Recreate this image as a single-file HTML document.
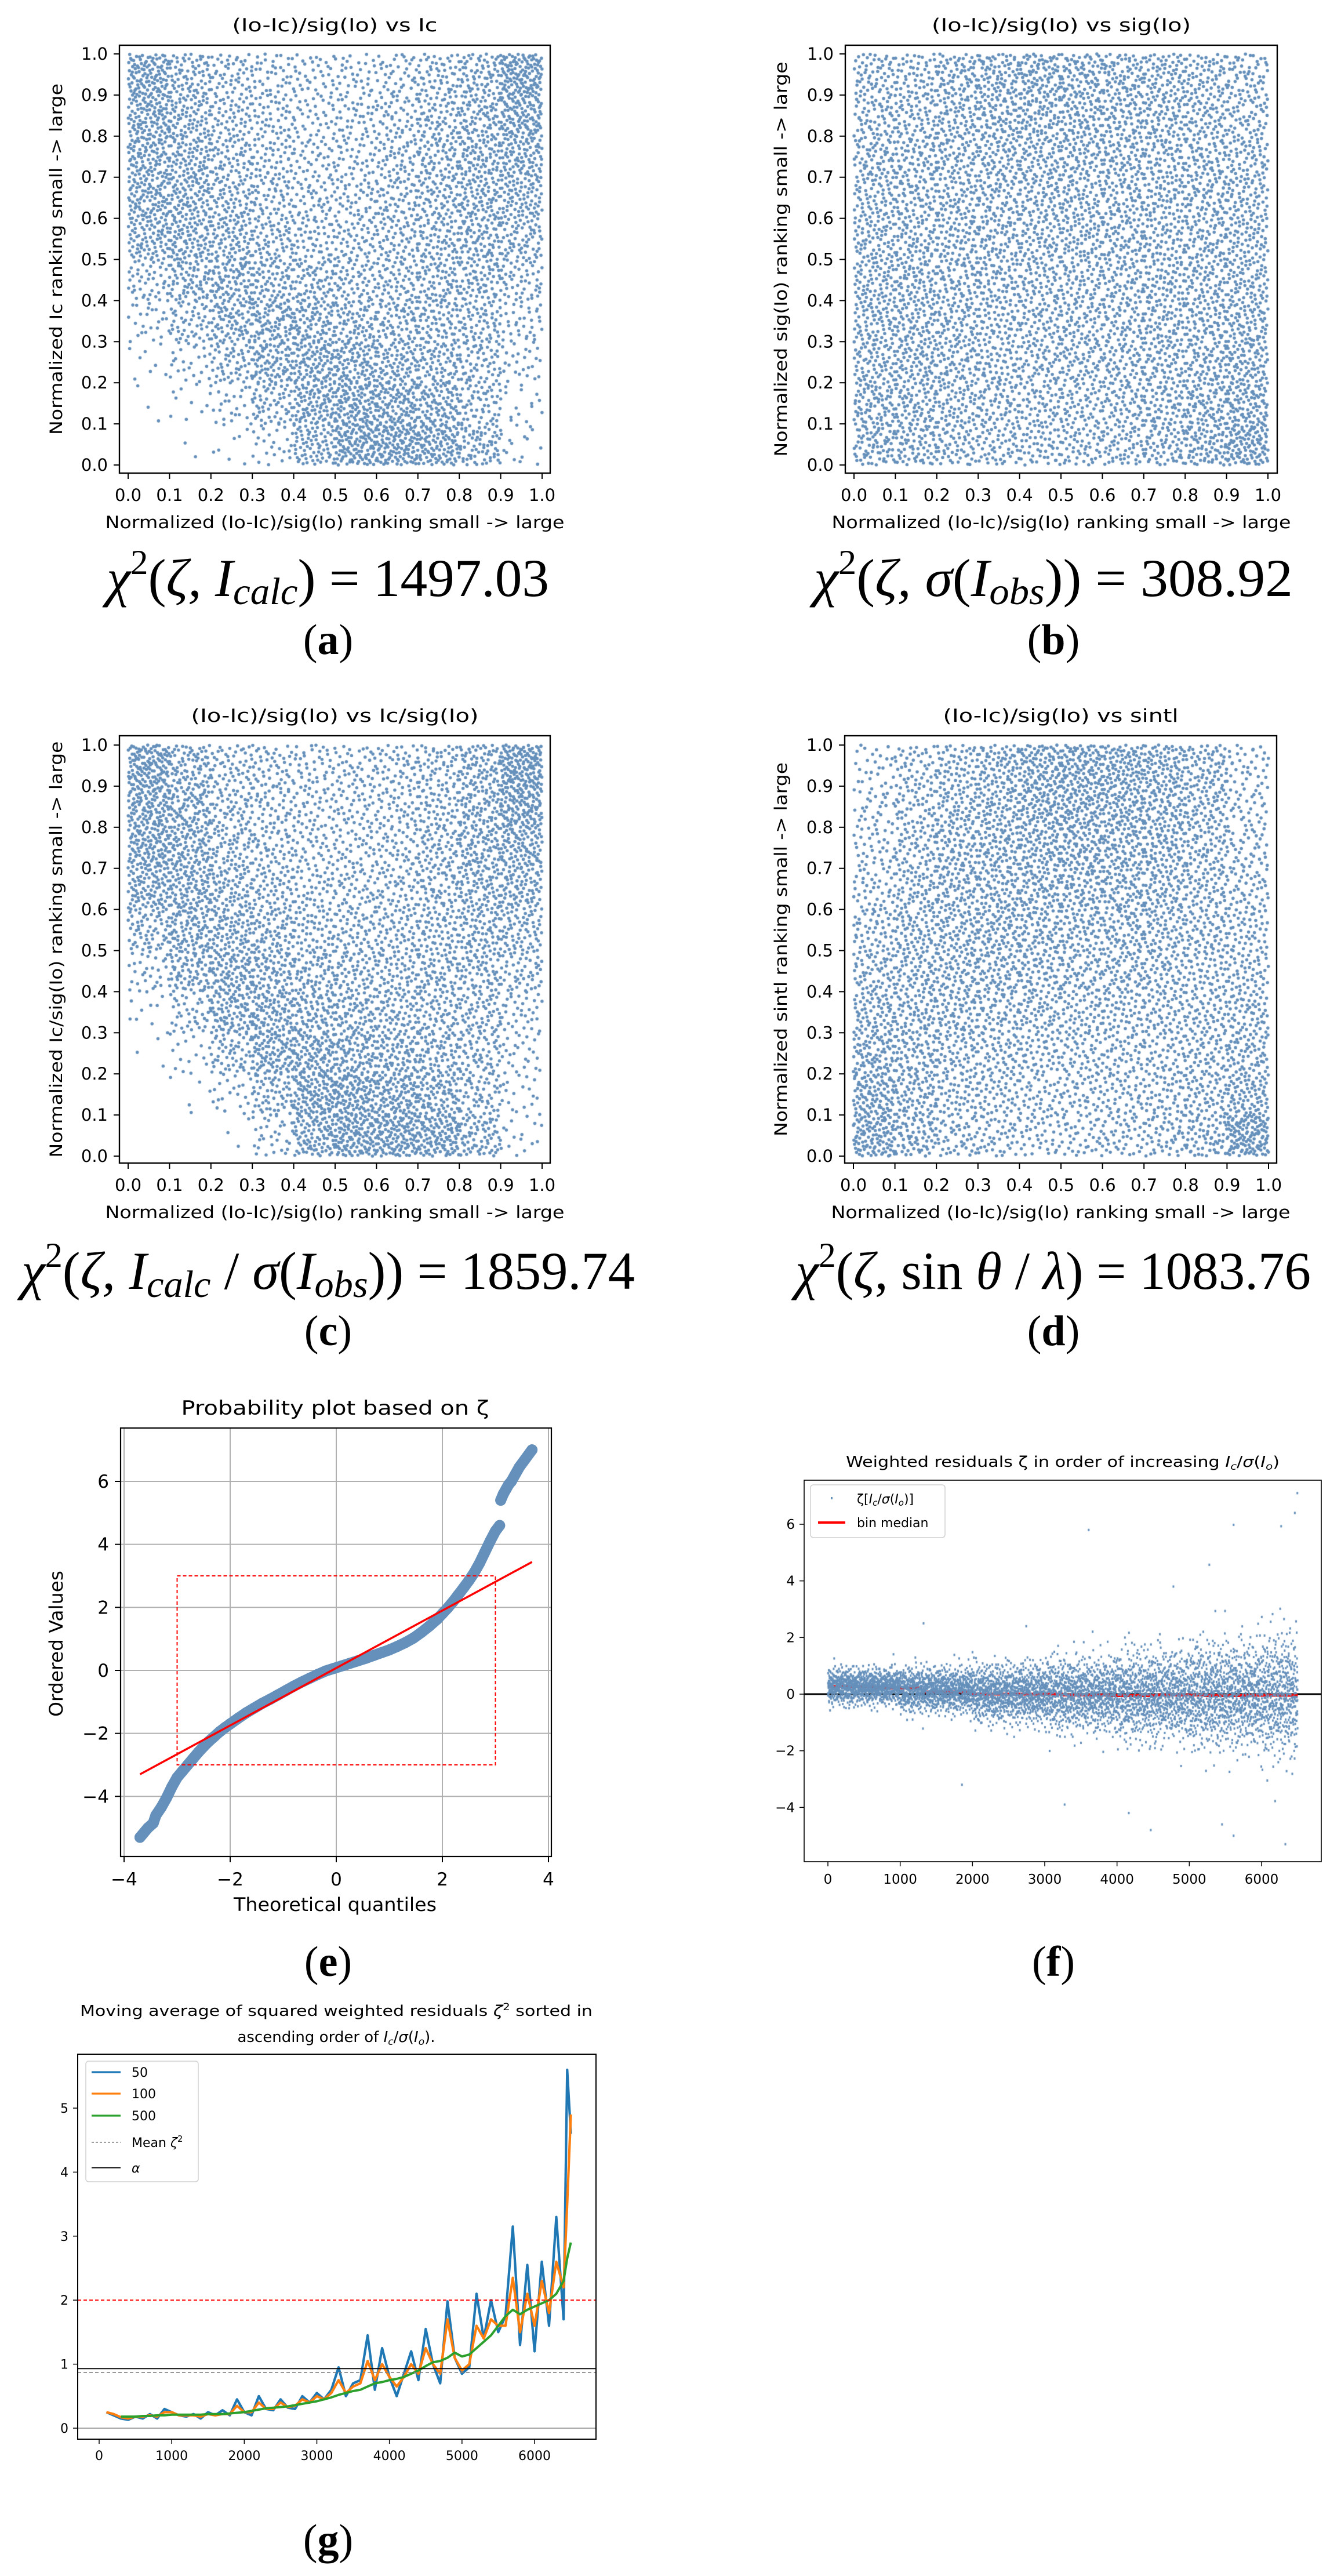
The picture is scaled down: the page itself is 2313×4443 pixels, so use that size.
<!DOCTYPE html>
<html><head><meta charset="utf-8"><title>Residual analysis figure</title>
<style>
html,body{margin:0;padding:0;background:#fff;}
#wrap{position:relative;width:2313px;height:4443px;overflow:hidden;}
#fig{position:absolute;left:0;top:0;}
#dots{position:absolute;left:0;top:0;pointer-events:none;}
text{font-family:"DejaVu Sans","Liberation Sans",sans-serif;fill:#000;}
.serif{font-family:"Liberation Serif","DejaVu Serif",serif;}
</style></head>
<body>
<div id="wrap">
<svg id="fig" width="2313" height="4443" viewBox="0 0 2313 4443" xmlns="http://www.w3.org/2000/svg">
  <text class="serif" x="184" y="1028" font-size="92" textLength="763" lengthAdjust="spacingAndGlyphs"><tspan font-style="italic">χ</tspan><tspan dy="-38" font-size="60">2</tspan><tspan dy="38">(</tspan><tspan font-style="italic">ζ, I</tspan><tspan font-style="italic" font-size="66" dy="14">calc</tspan><tspan dy="-14">) = 1497.03</tspan></text>
  <text class="serif" x="1404" y="1028" font-size="92" textLength="826" lengthAdjust="spacingAndGlyphs"><tspan font-style="italic">χ</tspan><tspan dy="-38" font-size="60">2</tspan><tspan dy="38">(</tspan><tspan font-style="italic">ζ, σ</tspan><tspan>(</tspan><tspan font-style="italic">I</tspan><tspan font-style="italic" font-size="66" dy="14">obs</tspan><tspan dy="-14">)) = 308.92</tspan></text>
  <text class="serif" x="37" y="2223" font-size="92" textLength="1058" lengthAdjust="spacingAndGlyphs"><tspan font-style="italic">χ</tspan><tspan dy="-38" font-size="60">2</tspan><tspan dy="38">(</tspan><tspan font-style="italic">ζ, I</tspan><tspan font-style="italic" font-size="66" dy="14">calc</tspan><tspan dy="-14"> / </tspan><tspan font-style="italic">σ</tspan><tspan>(</tspan><tspan font-style="italic">I</tspan><tspan font-style="italic" font-size="66" dy="14">obs</tspan><tspan dy="-14">)) = 1859.74</tspan></text>
  <text class="serif" x="1372" y="2223" font-size="92" textLength="889" lengthAdjust="spacingAndGlyphs"><tspan font-style="italic">χ</tspan><tspan dy="-38" font-size="60">2</tspan><tspan dy="38">(</tspan><tspan font-style="italic">ζ</tspan><tspan>, sin </tspan><tspan font-style="italic">θ</tspan><tspan> / </tspan><tspan font-style="italic">λ</tspan><tspan>) = 1083.76</tspan></text>
  <text class="serif" x="566" y="1128" font-size="74" text-anchor="middle">(<tspan font-weight="bold">a</tspan>)</text>
  <text class="serif" x="1817" y="1128" font-size="74" text-anchor="middle">(<tspan font-weight="bold">b</tspan>)</text>
  <text class="serif" x="566" y="2320" font-size="74" text-anchor="middle">(<tspan font-weight="bold">c</tspan>)</text>
  <text class="serif" x="1817" y="2320" font-size="74" text-anchor="middle">(<tspan font-weight="bold">d</tspan>)</text>
  <text class="serif" x="566" y="3408" font-size="74" text-anchor="middle">(<tspan font-weight="bold">e</tspan>)</text>
  <text class="serif" x="1817" y="3408" font-size="74" text-anchor="middle">(<tspan font-weight="bold">f</tspan>)</text>
  <text class="serif" x="566" y="4405" font-size="74" text-anchor="middle">(<tspan font-weight="bold">g</tspan>)</text>
</svg>
<canvas id="dots" width="2313" height="4443"></canvas>
</div>
<script>
const aDensity = [
 [110,70,50,40,35,35,40,55,70,130],
 [100,75,55,45,35,40,45,60,75,110],
 [95,80,60,50,40,40,50,65,80,90],
 [95,85,65,55,45,45,55,65,80,80],
 [80,85,75,60,50,50,55,65,75,65],
 [45,70,80,70,65,55,60,65,65,50],
 [25,50,80,85,80,70,65,65,60,35],
 [8,25,55,85,95,90,80,70,55,25],
 [3,10,25,55,95,110,100,85,55,15],
 [0,2,8,25,75,120,125,110,70,15]];
const bDensity = [
 [60,55,70,80,85,80,75,70,60,55],
 [60,60,70,75,75,75,70,70,65,55],
 [65,65,65,70,70,70,70,65,65,60],
 [65,65,65,65,65,65,65,65,65,65],
 [65,65,65,65,65,65,65,65,65,65],
 [70,70,65,65,60,60,60,65,65,70],
 [70,70,65,60,60,60,60,65,70,75],
 [70,70,65,60,60,60,60,65,70,80],
 [75,70,60,60,55,55,60,65,75,90],
 [75,70,60,55,55,55,60,65,80,110]];
const cDensity = [
 [130,75,50,45,40,40,45,55,75,140],
 [110,85,55,45,40,40,45,55,75,120],
 [110,90,60,50,40,40,45,60,80,95],
 [90,90,70,55,45,45,50,60,75,80],
 [60,85,80,65,55,50,55,60,70,65],
 [30,75,90,75,65,60,60,65,65,50],
 [10,40,85,90,80,70,65,60,60,35],
 [3,15,55,95,95,85,80,70,55,25],
 [0,5,20,60,110,115,100,85,55,18],
 [0,0,3,30,90,125,125,110,70,15]];
const dDensity = [
 [25,45,60,75,95,100,95,85,65,35],
 [30,50,65,75,90,95,90,80,65,35],
 [35,55,70,75,80,85,80,75,60,40],
 [40,60,70,75,75,75,75,70,60,45],
 [50,65,70,75,70,65,65,65,60,50],
 [60,65,70,70,65,60,60,60,55,55],
 [70,65,65,60,60,55,55,55,55,60],
 [80,70,60,55,50,50,50,50,55,65],
 [95,70,55,50,45,45,45,50,60,80],
 [110,70,50,45,40,40,45,50,65,130]];
const unitTicks = ["0.0","0.1","0.2","0.3","0.4","0.5","0.6","0.7","0.8","0.9","1.0"];

const eQuantiles = [-3.7,-3.55,-3.45,-3.4,-3.3,-3.2,-3.1,-3.0,-2.9,-2.8,-2.7,-2.6,-2.5,-2.4,-2.3,-2.2,-2.1,-2.0,-1.85,-1.7,-1.55,-1.4,-1.25,-1.1,-0.95,-0.8,-0.65,-0.5,-0.35,-0.2,-0.05,0.1,0.25,0.4,0.55,0.7,0.85,1.0,1.15,1.3,1.45,1.6,1.75,1.9,2.0,2.1,2.2,2.3,2.4,2.5,2.6,2.7,2.8,2.9,3.0,3.08,3.1,3.15,3.2,3.25,3.3,3.45,3.69];
const eOrdered  = [-5.3,-5.0,-4.85,-4.6,-4.35,-4.05,-3.7,-3.4,-3.2,-3.0,-2.8,-2.6,-2.42,-2.25,-2.1,-1.95,-1.82,-1.7,-1.52,-1.35,-1.2,-1.05,-0.92,-0.78,-0.64,-0.5,-0.37,-0.25,-0.13,-0.02,0.06,0.14,0.22,0.3,0.38,0.47,0.56,0.65,0.76,0.88,1.02,1.2,1.4,1.62,1.8,1.98,2.18,2.4,2.62,2.85,3.1,3.4,3.75,4.1,4.42,4.6,5.4,5.6,5.75,5.9,6.0,6.45,7.0];
const eFitSlope = 0.912, eFitIntercept = 0.075;
const eBoxLimit = 3;
const eXTicks = [-4,-2,0,2,4];
const eYTicks = [-4,-2,0,2,4,6];

const fBinStart  = [0,1000,2000,3000,4000,5000,6000];
const fBinCount  = [1000,1000,1000,1000,1000,1000,500];
const fBinCenter = [0.27,0.15,0.03,0.0,-0.03,-0.04,-0.04];
const fBinSpread = [0.3,0.38,0.5,0.62,0.75,0.9,1.05];
const fOutlierX = [3608,5613,6271,6495,6460,5277,4780,1323,2744,4467,5613,6329,3275,4163,5453,1855];
const fOutlierY = [5.8,5.98,5.93,7.1,6.4,4.57,3.8,2.5,2.4,-4.8,-5.0,-5.3,-3.9,-4.2,-4.6,-3.2];
const fMedianStart = [0,650,1300,1950,2600,3250,3900,4550,5200,5850];
const fMedianValue = [0.27,0.22,0.08,0.0,0.0,-0.03,-0.05,-0.03,-0.05,-0.04];
const fXTicks = [0,1000,2000,3000,4000,5000,6000];
const fYTicks = [-4,-2,0,2,4,6];

const gX = [100,200,300,400,500,600,700,800,900,1000,1100,1200,1300,1400,1500,1600,1700,1800,1900,2000,2100,2200,2300,2400,2500,2600,2700,2800,2900,3000,3100,3200,3300,3400,3500,3600,3700,3800,3900,4000,4100,4200,4300,4400,4500,4600,4700,4800,4900,5000,5100,5200,5300,5400,5500,5600,5700,5800,5900,6000,6100,6200,6300,6400,6450,6500];
const gMA50 = [0.25,0.20,0.15,0.13,0.18,0.15,0.22,0.15,0.30,0.25,
 0.20,0.18,0.22,0.15,0.25,0.20,0.28,0.20,0.45,0.25,
 0.20,0.50,0.30,0.28,0.45,0.32,0.30,0.50,0.40,0.55,
 0.45,0.60,0.95,0.50,0.70,0.75,1.45,0.60,1.25,0.80,
 0.50,0.85,1.20,0.75,1.55,1.00,0.70,1.98,1.10,0.85,
 0.95,2.10,1.40,2.00,1.50,1.75,3.15,1.30,2.55,1.20,
 2.60,1.60,3.30,1.70,5.60,4.60];
const gMA100 = [0.25,0.22,0.17,0.15,0.18,0.18,0.20,0.18,0.25,0.25,
 0.20,0.20,0.20,0.18,0.22,0.20,0.22,0.22,0.35,0.25,
 0.25,0.40,0.30,0.30,0.40,0.33,0.35,0.45,0.40,0.50,
 0.45,0.55,0.75,0.55,0.65,0.70,1.05,0.75,1.00,0.80,
 0.65,0.80,1.00,0.85,1.25,1.00,0.85,1.70,1.10,0.90,
 1.00,1.60,1.40,1.70,1.60,1.60,2.35,1.50,2.10,1.60,
 2.30,1.80,2.60,2.20,3.50,4.90];
const gMA500 = [null,null,0.18,0.18,0.18,0.19,0.19,0.20,0.20,0.21,
 0.21,0.21,0.21,0.21,0.22,0.22,0.22,0.23,0.24,0.25,
 0.27,0.29,0.31,0.32,0.33,0.34,0.36,0.38,0.40,0.42,
 0.45,0.48,0.52,0.55,0.58,0.60,0.65,0.70,0.72,0.75,
 0.77,0.80,0.85,0.90,0.97,1.03,1.05,1.10,1.18,1.12,
 1.15,1.25,1.35,1.45,1.60,1.75,1.85,1.78,1.85,1.90,
 1.95,2.00,2.10,2.30,2.65,2.90];
const gMeanZeta2 = 0.87, gAlpha = 0.93, gThreshold = 2;
const gXTicks = [0,1000,2000,3000,4000,5000,6000];
const gYTicks = [0,1,2,3,4,5];

const NS = 'http://www.w3.org/2000/svg';
const svg = document.getElementById('fig');
const ctx = document.getElementById('dots').getContext('2d');
const DOT = '#6590bb';
function mk(tag, attrs, parent){ const e=document.createElementNS(NS,tag); for(const k in attrs) e.setAttribute(k,attrs[k]); (parent||svg).appendChild(e); return e; }
function tx(str, attrs, parent){ const e=mk('text',attrs,parent); e.textContent=str; return e; }
function halton(i,b){ let f=1,r=0; while(i>0){ f/=b; r+=f*(i%b); i=Math.floor(i/b);} return r; }
function lin(d0,d1,p0,p1){ return v => p0 + (v-d0)*(p1-p0)/(d1-d0); }
function fmtNeg(v){ return v<0 ? '\u2212'+Math.abs(v) : String(v); }

function scatterPanel(p){
  const g = mk('g',{});
  
  
  const sx = lin(0,1,p.x0,p.x1), sy = lin(0,1,p.y0,p.y1);
  ctx.fillStyle = DOT;
  let idx = p.seed;
  for(let r=0;r<10;r++){
    for(let c=0;c<10;c++){
      const n = p.grid[r][c];
      for(let k=0;k<n;k++){
        idx++;
        const xv = (c + halton(idx,2))/10;
        const yv = (9 - r + halton(idx,3))/10;
        ctx.beginPath(); ctx.arc(sx(xv), sy(yv), 2.8, 0, 6.2832); ctx.fill();
      }
    }
  }
  const fr = mk('rect',{x:p.L,y:p.T,width:p.R-p.L,height:p.B-p.T,fill:'none',stroke:'#000','stroke-width':2.4},g);
  
  
  for(let i=0;i<=10;i++){
    const v=i/10, x=sx(v), y=sy(v);
    const tl = mk('line',{x1:x,x2:x,y1:p.B,y2:p.B+10,stroke:'#000','stroke-width':2},g);
    
    
    const xl = tx(unitTicks[i],{x:x,y:p.B+48,'font-size':29,'text-anchor':'middle'},g);
    
    
    const ty = mk('line',{x1:p.L-10,x2:p.L,y1:y,y2:y,stroke:'#000','stroke-width':2},g);
    
    
    const yl = tx(unitTicks[i],{x:p.L-20,y:y+10,'font-size':29,'text-anchor':'end'},g);
    
    
  }
  const cx=(p.L+p.R)/2;
  const t = tx(p.title,{x:cx,y:p.T-24,'font-size':31,'text-anchor':'middle',textLength:p.titleLen,lengthAdjust:'spacingAndGlyphs'},g);
  
  
  const xlab = tx('Normalized (Io-Ic)/sig(Io) ranking small -> large',{x:cx,y:p.B+95,'font-size':29,'text-anchor':'middle',textLength:792,lengthAdjust:'spacingAndGlyphs'},g);
  
  
  const cy=(p.T+p.B)/2;
  const ylab = tx(p.ylabel,{x:0,y:0,'font-size':29,'text-anchor':'middle','dominant-baseline':'central',transform:`translate(${p.yl},${cy}) rotate(-90)`,textLength:p.ylLen,lengthAdjust:'spacingAndGlyphs'},g);
  
  
}
scatterPanel({name:'scatter-panel-a',L:206,R:949,T:78,B:816,x0:221,x1:935,y0:802,y1:93,grid:aDensity,seed:0,
  title:'(Io-Ic)/sig(Io) vs Ic',titleLen:354,ylabel:'Normalized Ic ranking small -> large',yl:97,ylLen:606});
scatterPanel({name:'scatter-panel-b',L:1458,R:2203,T:78,B:816,x0:1473,x1:2187,y0:802,y1:93,grid:bDensity,seed:20000,
  title:'(Io-Ic)/sig(Io) vs sig(Io)',titleLen:447,ylabel:'Normalized sig(Io) ranking small -> large',yl:1347,ylLen:681});
scatterPanel({name:'scatter-panel-c',L:206,R:949,T:1269,B:2006,x0:221,x1:935,y0:1994,y1:1285,grid:cDensity,seed:40000,
  title:'(Io-Ic)/sig(Io) vs Ic/sig(Io)',titleLen:496,ylabel:'Normalized Ic/sig(Io) ranking small -> large',yl:97,ylLen:718});
scatterPanel({name:'scatter-panel-d',L:1457,R:2202,T:1269,B:2006,x0:1472,x1:2188,y0:1994,y1:1285,grid:dDensity,seed:60000,
  title:'(Io-Ic)/sig(Io) vs sintl',titleLen:406,ylabel:'Normalized sintl ranking small -> large',yl:1347,ylLen:645});

(function(){
  const L=208,R=951,T=2463,B=3202;
  const sx = lin(-4,4,214,946), sy = lin(0,6,2881,2555);
  const g = mk('g',{});
  
  
  const grid = mk('g',{},g);
  
  
  eXTicks.forEach(v=>{ const l=mk('line',{x1:sx(v),x2:sx(v),y1:T,y2:B,stroke:'#b0b0b0','stroke-width':2},grid);
    
     });
  eYTicks.forEach(v=>{ const l=mk('line',{x1:L,x2:R,y1:sy(v),y2:sy(v),stroke:'#b0b0b0','stroke-width':2},grid);
    
     });
  const band = mk('g',{},g);
  
  
  for(let i=1;i<eQuantiles.length;i++){
    const x1=sx(eQuantiles[i-1]),y1=sy(eOrdered[i-1]),x2=sx(eQuantiles[i]),y2=sy(eOrdered[i]);
    if(Math.hypot(x2-x1,y2-y1)<40){
      const l=mk('line',{x1:x1,y1:y1,x2:x2,y2:y2,stroke:DOT,'stroke-width':19,'stroke-linecap':'round'},band);
      
      
    }
  }
  for(let i=0;i<eQuantiles.length;i++){
    const c=mk('circle',{cx:sx(eQuantiles[i]),cy:sy(eOrdered[i]),r:9.5,fill:DOT},band);
    
    
  }
  const bx=mk('rect',{x:sx(-eBoxLimit),y:sy(eBoxLimit),width:sx(eBoxLimit)-sx(-eBoxLimit),height:sy(-eBoxLimit)-sy(eBoxLimit),fill:'none',stroke:'#ff0000','stroke-width':2,'stroke-dasharray':'6,4'},g);
  
  
  const q0=eQuantiles[0], q1=eQuantiles[eQuantiles.length-1];
  const fit=mk('line',{x1:sx(q0),y1:sy(eFitSlope*q0+eFitIntercept),x2:sx(q1),y2:sy(eFitSlope*q1+eFitIntercept),stroke:'#ff0000','stroke-width':3.5},g);
  
  
  const fr=mk('rect',{x:L,y:T,width:R-L,height:B-T,fill:'none',stroke:'#000','stroke-width':2.2},g);
  
  
  eXTicks.forEach(v=>{
    const t=mk('line',{x1:sx(v),x2:sx(v),y1:B,y2:B+10,stroke:'#000','stroke-width':2},g);
    
    
    const l=tx(fmtNeg(v),{x:sx(v),y:3252,'font-size':31,'text-anchor':'middle'},g);
    
    
  });
  eYTicks.forEach(v=>{
    const t=mk('line',{x1:L-10,x2:L,y1:sy(v),y2:sy(v),stroke:'#000','stroke-width':2},g);
    
    
    const l=tx(fmtNeg(v),{x:L-20,y:sy(v)+11,'font-size':31,'text-anchor':'end'},g);
    
    
  });
  const ti=tx('Probability plot based on \u03B6',{x:578,y:2440,'font-size':34,'text-anchor':'middle',textLength:531,lengthAdjust:'spacingAndGlyphs'},g);
  
  
  const xl=tx('Theoretical quantiles',{x:578,y:3296,'font-size':32,'text-anchor':'middle',textLength:350,lengthAdjust:'spacingAndGlyphs'},g);
  
  
  const yl=tx('Ordered Values',{x:0,y:0,'font-size':32,'text-anchor':'middle','dominant-baseline':'central',transform:'translate(97,2835) rotate(-90)',textLength:252,lengthAdjust:'spacingAndGlyphs'},g);
  
  
})();

(function(){
  const L=1387,R=2279,T=2553,B=3211;
  const sx = lin(0,6000,1428,2176), sy = lin(0,6,2922,2629);
  const g = mk('g',{});
  
  
  ctx.fillStyle = DOT;
  let idx = 80000;
  for(let b=0;b<fBinStart.length;b++){
    for(let k=0;k<fBinCount[b];k++){
      idx++;
      const u = halton(idx,2), v1 = Math.max(1e-4,halton(idx,3)), v2 = halton(idx,5);
      const z = Math.sqrt(-2*Math.log(v1))*Math.cos(6.2832*v2);
      const xv = fBinStart[b] + u*(b===fBinStart.length-1?500:1000);
      const yv = fBinCenter[b] + fBinSpread[b]*z;
      ctx.fillRect(sx(xv)-1.5, sy(yv)-2, 3, 4);
    }
  }
  for(let i=0;i<fOutlierX.length;i++) ctx.fillRect(sx(fOutlierX[i])-1.5, sy(fOutlierY[i])-2, 3, 4);
  const zl=mk('line',{x1:L,x2:R,y1:sy(0),y2:sy(0),stroke:'#000','stroke-width':3},g);
  
  
  for(let i=0;i<fMedianStart.length;i++){
    const x2 = i+1<fMedianStart.length ? fMedianStart[i+1] : 6500;
    const m=mk('line',{x1:sx(fMedianStart[i]),x2:sx(x2),y1:sy(fMedianValue[i]),y2:sy(fMedianValue[i]),stroke:'#ff0000','stroke-width':5},g);
    
    
  }
  const fr=mk('rect',{x:L,y:T,width:R-L,height:B-T,fill:'none',stroke:'#000','stroke-width':1.6},g);
  
  
  fXTicks.forEach(v=>{
    const t=mk('line',{x1:sx(v),x2:sx(v),y1:B,y2:B+8,stroke:'#000','stroke-width':1.5},g);
    
    
    const l=tx(String(v),{x:sx(v),y:3249,'font-size':23,'text-anchor':'middle'},g);
    
    
  });
  fYTicks.forEach(v=>{
    const t=mk('line',{x1:L-8,x2:L,y1:sy(v),y2:sy(v),stroke:'#000','stroke-width':1.5},g);
    
    
    const l=tx(fmtNeg(v),{x:L-16,y:sy(v)+8,'font-size':23,'text-anchor':'end'},g);
    
    
  });
  const ti=tx('',{x:1833,y:2530,'font-size':26,'text-anchor':'middle',textLength:748,lengthAdjust:'spacingAndGlyphs'},g);
  ti.innerHTML='Weighted residuals \u03B6 in order of increasing <tspan font-style="italic">I</tspan><tspan font-style="italic" font-size="17" dy="5">c</tspan><tspan dy="-5">/</tspan><tspan font-style="italic">\u03C3</tspan>(<tspan font-style="italic">I</tspan><tspan font-style="italic" font-size="17" dy="5">o</tspan><tspan dy="-5">)</tspan>';
  
  
  const lg=mk('g',{},g);
  
  
  const lb=mk('rect',{x:1398,y:2561,width:232,height:91,rx:5,fill:'#fff','fill-opacity':0.8,stroke:'#d0d0d0','stroke-width':1.5},lg);
  
  
  const ld=mk('rect',{x:1433,y:2582,width:3,height:4,fill:DOT},lg);
  
  
  const lt=tx('',{x:1478,y:2593,'font-size':22},lg);
  lt.innerHTML='\u03B6[<tspan font-style="italic">I</tspan><tspan font-style="italic" font-size="15" dy="4">c</tspan><tspan dy="-4">/</tspan><tspan font-style="italic">\u03C3</tspan>(<tspan font-style="italic">I</tspan><tspan font-style="italic" font-size="15" dy="4">o</tspan><tspan dy="-4">)]</tspan>';
  
  
  const lr=mk('line',{x1:1411,x2:1458,y1:2626,y2:2626,stroke:'#ff0000','stroke-width':4},lg);
  
  
  const lt2=tx('bin median',{x:1478,y:2634,'font-size':22},lg);
  
  
})();

(function(){
  const L=134,R=1028,T=3543,B=4207;
  const sx = lin(0,6000,171,922), sy = lin(0,5,4188,3636);
  const g = mk('g',{});
  
  
  const hz=(v,st,w,dash,name)=>{ const l=mk('line',{x1:L,x2:R,y1:sy(v),y2:sy(v),stroke:st,'stroke-width':w},g);
    if(dash) l.setAttribute('stroke-dasharray',dash);
    
     };
  hz(0,'#888',1.5,null,'zero-line');
  const series=(arr,col,w,name)=>{
    const pts=[]; arr.forEach((v,i)=>{ if(v!==null) pts.push(sx(gX[i]).toFixed(1)+','+sy(v).toFixed(1)); });
    const pl=mk('polyline',{points:pts.join(' '),fill:'none',stroke:col,'stroke-width':w,'stroke-linejoin':'round'},g);
    
    
  };
  series(gMA50,'#1f77b4',4.2,'series-window-50');
  series(gMA100,'#ff7f0e',4.2,'series-window-100');
  series(gMA500,'#2ca02c',4,'series-window-500');
  hz(gThreshold,'#ff0000',2,'6,4','threshold-line');
  hz(gAlpha,'#000',1.8,null,'alpha-line');
  hz(gMeanZeta2,'#808080',1.6,'6,4','mean-zeta2-line');
  const fr=mk('rect',{x:L,y:T,width:R-L,height:B-T,fill:'none',stroke:'#000','stroke-width':2},g);
  
  
  gXTicks.forEach(v=>{
    const t=mk('line',{x1:sx(v),x2:sx(v),y1:B,y2:B+8,stroke:'#000','stroke-width':1.5},g);
    
    
    const l=tx(String(v),{x:sx(v),y:4243,'font-size':22,'text-anchor':'middle'},g);
    
    
  });
  gYTicks.forEach(v=>{
    const t=mk('line',{x1:L-8,x2:L,y1:sy(v),y2:sy(v),stroke:'#000','stroke-width':1.5},g);
    
    
    const l=tx(String(v),{x:L-16,y:sy(v)+8,'font-size':22,'text-anchor':'end'},g);
    
    
  });
  const t1=tx('',{x:580,y:3477,'font-size':26,'text-anchor':'middle',textLength:884,lengthAdjust:'spacingAndGlyphs'},g);
  t1.innerHTML='Moving average of squared weighted residuals <tspan font-style="italic">\u03B6</tspan><tspan font-size="17" dy="-10">2</tspan><tspan dy="10"> sorted in</tspan>';
  
  
  const t2=tx('',{x:580,y:3522,'font-size':26,'text-anchor':'middle'},g);
  t2.innerHTML='ascending order of <tspan font-style="italic">I</tspan><tspan font-style="italic" font-size="17" dy="5">c</tspan><tspan dy="-5">/</tspan><tspan font-style="italic">\u03C3</tspan>(<tspan font-style="italic">I</tspan><tspan font-style="italic" font-size="17" dy="5">o</tspan><tspan dy="-5">).</tspan>';
  
  
  const lg=mk('g',{},g);
  
  
  const lb=mk('rect',{x:148,y:3555,width:194,height:208,rx:5,fill:'#fff','fill-opacity':0.8,stroke:'#d0d0d0','stroke-width':1.5},lg);
  
  
  const entries=[['50','#1f77b4',null,3.2,3574],['100','#ff7f0e',null,3.2,3611],['500','#2ca02c',null,3.2,3649],['Mean','#808080','4,3',1.5,3695],['\u03B1','#000',null,1.8,3739]];
  entries.forEach(e=>{
    const l=mk('line',{x1:158,x2:208,y1:e[4],y2:e[4],stroke:e[1],'stroke-width':e[3]},lg);
    if(e[2]) l.setAttribute('stroke-dasharray',e[2]);
    
    
    const t=tx('',{x:227,y:e[4]+8,'font-size':22},lg);
    if(e[0]==='Mean') t.innerHTML='Mean <tspan font-style="italic">\u03B6</tspan><tspan font-size="15" dy="-9">2</tspan>';
    else if(e[0]==='\u03B1') t.innerHTML='<tspan font-style="italic">\u03B1</tspan>';
    else t.textContent=e[0];
    
    
  });
})();
</script>
</body></html>
